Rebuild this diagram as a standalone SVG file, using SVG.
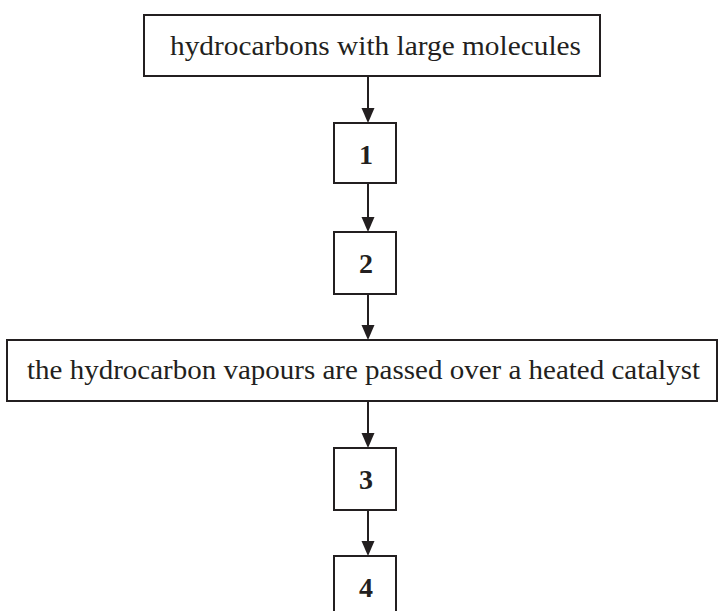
<svg xmlns="http://www.w3.org/2000/svg" width="720" height="611" viewBox="0 0 720 611">
<defs>
<style>
.box{fill:#fff;stroke:#231f20;stroke-width:2}
.t{font-family:"Liberation Serif","Times New Roman",serif;font-size:28px;fill:#231f20}
.n{font-family:"Liberation Serif","Times New Roman",serif;font-size:28px;font-weight:bold;fill:#231f20;text-anchor:middle}
.c{stroke:#231f20;stroke-width:2;fill:none}
.h{fill:#231f20}
</style>
</defs>
<rect width="720" height="611" fill="#fff"/>
<g id="connectors">
<path class="c" d="M368,76 V108"/><path class="h" d="M361.5,108 L374.5,108 L368,123 Z"/>
<path class="c" d="M368,183 V217"/><path class="h" d="M361.5,217 L374.5,217 L368,232 Z"/>
<path class="c" d="M368,294 V325"/><path class="h" d="M361.5,325 L374.5,325 L368,340 Z"/>
<path class="c" d="M368,401 V433"/><path class="h" d="M361.5,433 L374.5,433 L368,448 Z"/>
<path class="c" d="M368,510 V541"/><path class="h" d="M361.5,541 L374.5,541 L368,556 Z"/>
</g>
<g id="start"><rect class="box" x="144" y="15" width="456" height="61"/><text class="t" x="170" y="55" textLength="411" lengthAdjust="spacingAndGlyphs">hydrocarbons with large molecules</text></g>
<g id="step1"><rect class="box" x="334" y="123" width="62" height="60"/><text class="n" x="366" y="164">1</text></g>
<g id="step2"><rect class="box" x="334" y="232" width="62" height="62"/><text class="n" x="366" y="273">2</text></g>
<g id="catalyst"><rect class="box" x="7" y="340" width="710" height="61"/><text class="t" x="27" y="379" textLength="673" lengthAdjust="spacingAndGlyphs">the hydrocarbon vapours are passed over a heated catalyst</text></g>
<g id="step3"><rect class="box" x="334" y="448" width="62" height="62"/><text class="n" x="366" y="489">3</text></g>
<g id="step4"><path class="box" d="M334,620 V556 H396 V620"/><text class="n" x="366" y="597">4</text></g>
</svg>
